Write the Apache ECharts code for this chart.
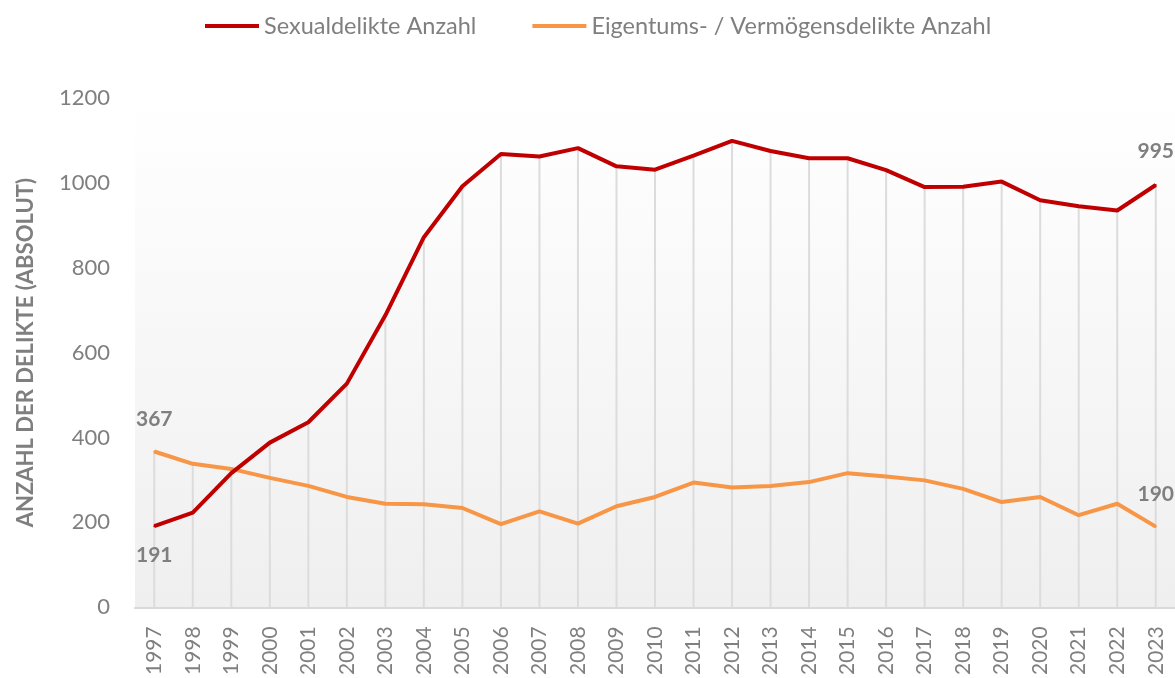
<!DOCTYPE html>
<html>
<head>
<meta charset="utf-8">
<script src="https://cdn.jsdelivr.net/npm/echarts@6/dist/echarts.min.js"></script>
<style>
html,body{margin:0;padding:0;background:#fff;}
#chart{width:1175px;height:678px;}
</style>
</head>
<body>
<div id="chart"></div>
<script>
const years = ['1997','1998','1999','2000','2001','2002','2003','2004','2005','2006','2007','2008','2009','2010','2011','2012','2013','2014','2015','2016','2017','2018','2019','2020','2021','2022','2023'];
const sexualName = 'Sexualdelikte Anzahl';
const propertyName = 'Eigentums- / Vermögensdelikte Anzahl';
const sexual = [191,223,316,388,436,527,688,872,992,1068,1062,1082,1039,1031,1064,1099,1075,1058,1058,1030,990,991,1003,959,945,935,995];
const property = [367,338,326,305,286,260,244,243,234,196,226,197,238,260,294,282,286,295,316,308,299,279,248,260,217,244,190];
const yTicks = [0,200,400,600,800,1000,1200];
const yAxisName = 'ANZAHL DER DELIKTE (ABSOLUT)';

const gray = '#7f7f7f';
const FONT = 'Lato';

function labeled(values, firstPos, firstDist, lastPos, lastDist) {
  return values.map((v, i) => {
    if (i === 0) return {value: v, label: {show: true, position: firstPos, distance: firstDist}};
    if (i === values.length - 1) return {value: v, label: {show: true, position: lastPos, distance: lastDist}};
    return v;
  });
}
const dropTop = years.map((_, i) => Math.max(sexual[i], property[i]));

const chart = echarts.init(document.getElementById('chart'), null, {renderer: 'canvas'});
chart.setOption({
  animation: false,
  backgroundColor: '#ffffff',
  textStyle: {fontFamily: FONT},
  legend: {
    top: 9,
    left: 200,
    itemWidth: 54,
    itemHeight: 4,
    itemGap: 56,
    icon: 'rect',
    data: [sexualName, propertyName],
    textStyle: {color: gray, fontSize: 23.5, fontFamily: FONT}
  },
  grid: {
    left: 135, right: 0, top: 98, bottom: 69,
    show: true,
    borderWidth: 0,
    backgroundColor: new echarts.graphic.LinearGradient(0, 0, 0, 1, [
      {offset: 0, color: '#ffffff'},
      {offset: 1, color: '#efefef'}
    ])
  },
  xAxis: {
    type: 'category',
    data: years,
    boundaryGap: true,
    axisLine: {show: true, lineStyle: {color: '#d9d9d9', width: 2}},
    axisTick: {show: false},
    axisLabel: {rotate: 90, color: gray, fontSize: 21, margin: 19, fontFamily: FONT, interval: 0}
  },
  yAxis: {
    type: 'value',
    min: yTicks[0],
    max: yTicks[yTicks.length - 1],
    interval: yTicks[1] - yTicks[0],
    axisLine: {show: false},
    axisTick: {show: false},
    splitLine: {show: false},
    axisLabel: {color: gray, fontSize: 22, margin: 25, fontFamily: FONT, formatter: v => String(v)},
    name: yAxisName,
    nameLocation: 'middle',
    nameGap: 98,
    nameTextStyle: {color: gray, fontSize: 22, fontWeight: 'bold', fontFamily: FONT}
  },
  series: [
    {
      name: 'drop',
      type: 'bar',
      data: dropTop,
      barWidth: 2,
      silent: true,
      z: 1,
      itemStyle: {color: '#dcdcdc'}
    },
    {
      name: sexualName,
      type: 'line',
      data: labeled(sexual, 'bottom', 18, 'top', 22),
      symbol: 'circle',
      symbolSize: 2,
      showSymbol: true,
      lineStyle: {color: '#c00000', width: 4},
      itemStyle: {color: '#c00000'},
      z: 3,
      label: {show: false, color: gray, fontSize: 21, fontWeight: 'bold', fontFamily: FONT}
    },
    {
      name: propertyName,
      type: 'line',
      data: labeled(property, 'top', 21, 'top', 21),
      symbol: 'circle',
      symbolSize: 2,
      showSymbol: true,
      lineStyle: {color: '#f79646', width: 4},
      itemStyle: {color: '#f79646'},
      z: 2,
      label: {show: false, color: gray, fontSize: 21, fontWeight: 'bold', fontFamily: FONT}
    }
  ]
});
</script>
</body>
</html>
